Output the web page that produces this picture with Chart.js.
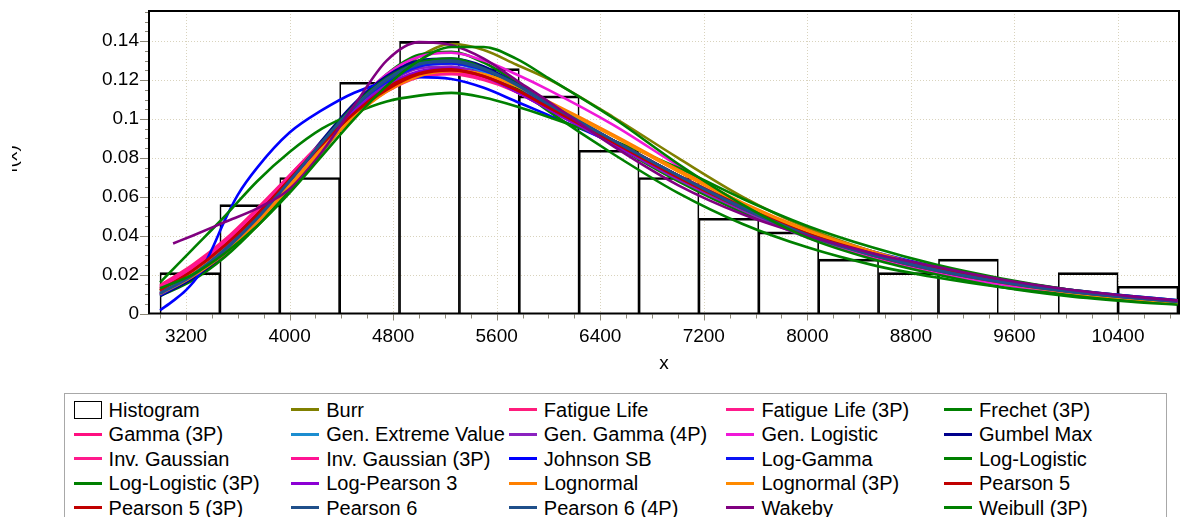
<!DOCTYPE html>
<html>
<head>
<meta charset="utf-8">
<script src="https://cdn.jsdelivr.net/npm/chart.js@4.4.1/dist/chart.umd.min.js"></script>
<style>
  html, body { margin: 0; padding: 0; background: #fff; }
  #wrap { position: relative; width: 1181px; height: 517px; overflow: hidden;
          font-family: "Liberation Sans", Arial, sans-serif; }
  #plot { position: absolute; left: 0; top: 0; }
  #legend { position: absolute; left: 64px; top: 393px; width: 1103px; height: 150px;
            border: 1px solid #a8a8a8; box-sizing: border-box; background: #fff; }
  .item { position: absolute; height: 24px; line-height: 24px; font-size: 20px; color: #000; white-space: nowrap; }
  .sw { position: absolute; left: 0; top: 10.5px; width: 28px; height: 3px; }
  .box { position: absolute; left: 0; top: 3px; width: 28px; height: 18px; border: 1.5px solid #000; box-sizing: border-box; }
  .lbl { position: absolute; left: 35px; top: 0; }
</style>
</head>
<body>
<div id="wrap">
  <canvas id="plot" width="1181" height="385"></canvas>
  <div id="legend"></div>
</div>
<script>
// ---- histogram ----
const BIN_START = 2999;
const BIN_WIDTH = 462.6;
const HIST_COUNTS = [3, 8, 10, 17, 20, 18, 16, 12, 10, 7, 6, 4, 3, 4, 0, 3, 2];

// ---- axis ranges and tick labels ----
const X_MIN = 2914, X_MAX = 10871;
const X_LABELS = [3200, 4000, 4800, 5600, 6400, 7200, 8000, 8800, 9600, 10400];
const X_MINOR = 200, X_MINOR_START = 3000;
const Y_MAX = 0.1555;
const Y_LABELS = [0, 0.02, 0.04, 0.06, 0.08, 0.1, 0.12, 0.14];
const Y_MINOR = 0.005;

// ---- fitted density curves, sampled along x ----
const X_GRID = [3000, 3250, 3500, 3750, 4000, 4250, 4500, 4750, 5000, 5250, 5500, 5750, 6000, 6500, 7000, 7500, 8000, 8500, 9000, 9500, 10000, 10500, 10860];
const JOHNSON_SB_X = [3000, 3100, 3200, 3300, 3400, 3500, 3600, 3750, 4000, 4250, 4500, 4750, 5000, 5250, 5500, 5750, 6000, 6500, 7000, 7500, 8000, 8500, 9000, 9500, 10000, 10500, 10860];
const WAKEBY_X = [3100, 3250, 3500, 3750, 4000, 4250, 4500, 4750, 5000, 5250, 5500, 5750, 6000, 6500, 7000, 7500, 8000, 8500, 9000, 9500, 10000, 10500, 10860];

const BURR = [0.010, 0.018, 0.030, 0.045, 0.063, 0.083, 0.103, 0.120, 0.132, 0.1385, 0.1355, 0.128, 0.1205, 0.101, 0.080, 0.060, 0.044, 0.032, 0.023, 0.016, 0.0112, 0.0078, 0.0058];
const FATIGUE_LIFE = [0.0145, 0.025, 0.038, 0.054, 0.071, 0.088, 0.103, 0.115, 0.122, 0.1235, 0.121, 0.114, 0.105, 0.088, 0.071, 0.055, 0.041, 0.031, 0.023, 0.0165, 0.0118, 0.0083, 0.0063];
const FATIGUE_LIFE_3P = [0.014, 0.024, 0.037, 0.053, 0.070, 0.088, 0.104, 0.116, 0.1235, 0.125, 0.122, 0.115, 0.106, 0.088, 0.070, 0.054, 0.040, 0.030, 0.022, 0.016, 0.0113, 0.008, 0.006];
const FRECHET_3P = [0.009, 0.017, 0.029, 0.045, 0.064, 0.085, 0.106, 0.123, 0.133, 0.1345, 0.129, 0.119, 0.108, 0.087, 0.068, 0.052, 0.040, 0.030, 0.0225, 0.017, 0.0125, 0.009, 0.0068];
const GAMMA_3P = [0.0125, 0.023, 0.036, 0.052, 0.070, 0.088, 0.104, 0.116, 0.123, 0.125, 0.122, 0.115, 0.106, 0.089, 0.071, 0.054, 0.040, 0.029, 0.021, 0.015, 0.0105, 0.0073, 0.0055];
const GEN_EXTREME_VALUE = [0.011, 0.020, 0.033, 0.049, 0.068, 0.088, 0.106, 0.119, 0.127, 0.1285, 0.124, 0.116, 0.106, 0.088, 0.070, 0.054, 0.041, 0.031, 0.023, 0.017, 0.0122, 0.0088, 0.0068];
const GEN_GAMMA_4P = [0.010, 0.020, 0.033, 0.050, 0.069, 0.088, 0.105, 0.118, 0.126, 0.127, 0.123, 0.115, 0.105, 0.087, 0.069, 0.053, 0.039, 0.029, 0.021, 0.015, 0.0106, 0.0073, 0.0055];
const GEN_LOGISTIC = [0.010, 0.019, 0.031, 0.047, 0.066, 0.087, 0.107, 0.123, 0.132, 0.134, 0.130, 0.123, 0.115, 0.097, 0.076, 0.056, 0.040, 0.029, 0.021, 0.015, 0.0103, 0.007, 0.0052];
const GUMBEL_MAX = [0.009, 0.018, 0.031, 0.048, 0.068, 0.089, 0.108, 0.122, 0.130, 0.131, 0.127, 0.118, 0.108, 0.089, 0.071, 0.055, 0.041, 0.031, 0.023, 0.0165, 0.0118, 0.0083, 0.0063];
const INV_GAUSSIAN = [0.013, 0.024, 0.037, 0.053, 0.070, 0.087, 0.102, 0.114, 0.1215, 0.123, 0.120, 0.114, 0.105, 0.088, 0.071, 0.055, 0.041, 0.031, 0.023, 0.0165, 0.0118, 0.0084, 0.0064];
const INV_GAUSSIAN_3P = [0.0135, 0.024, 0.037, 0.053, 0.071, 0.088, 0.103, 0.115, 0.1225, 0.124, 0.121, 0.114, 0.105, 0.088, 0.070, 0.054, 0.040, 0.030, 0.022, 0.016, 0.0113, 0.008, 0.006];
const JOHNSON_SB = [0.0017, 0.0065, 0.012, 0.020, 0.033, 0.048, 0.061, 0.075, 0.093, 0.1045, 0.1135, 0.119, 0.1215, 0.1205, 0.116, 0.109, 0.102, 0.0875, 0.070, 0.0545, 0.041, 0.031, 0.023, 0.0163, 0.0112, 0.0076, 0.0056];
const LOG_GAMMA = [0.0095, 0.019, 0.032, 0.049, 0.068, 0.088, 0.106, 0.119, 0.127, 0.1285, 0.125, 0.117, 0.107, 0.089, 0.071, 0.055, 0.042, 0.032, 0.024, 0.0175, 0.0125, 0.009, 0.0068];
const LOG_LOGISTIC = [0.016, 0.033, 0.050, 0.068, 0.083, 0.095, 0.103, 0.109, 0.112, 0.1134, 0.111, 0.1065, 0.101, 0.089, 0.075, 0.059, 0.045, 0.034, 0.025, 0.018, 0.0125, 0.0085, 0.0063];
const LOG_LOGISTIC_3P = [0.012, 0.021, 0.033, 0.049, 0.068, 0.088, 0.107, 0.121, 0.129, 0.131, 0.126, 0.116, 0.104, 0.082, 0.062, 0.046, 0.034, 0.025, 0.0185, 0.0135, 0.0098, 0.007, 0.0052];
const LOG_PEARSON_3 = [0.010, 0.020, 0.033, 0.050, 0.068, 0.087, 0.104, 0.117, 0.1245, 0.126, 0.122, 0.114, 0.105, 0.087, 0.070, 0.054, 0.041, 0.031, 0.023, 0.017, 0.012, 0.0087, 0.0066];
const LOGNORMAL = [0.010, 0.019, 0.031, 0.047, 0.065, 0.084, 0.101, 0.114, 0.122, 0.1245, 0.123, 0.117, 0.109, 0.092, 0.074, 0.057, 0.043, 0.032, 0.023, 0.0165, 0.0115, 0.008, 0.006];
const LOGNORMAL_3P = [0.0115, 0.021, 0.033, 0.049, 0.066, 0.085, 0.102, 0.115, 0.123, 0.125, 0.123, 0.117, 0.108, 0.091, 0.073, 0.056, 0.042, 0.031, 0.0225, 0.016, 0.011, 0.0076, 0.0056];
const PEARSON_5 = [0.012, 0.022, 0.035, 0.051, 0.069, 0.087, 0.103, 0.115, 0.123, 0.125, 0.122, 0.115, 0.106, 0.089, 0.071, 0.055, 0.041, 0.031, 0.023, 0.0168, 0.012, 0.0086, 0.0065];
const PEARSON_5_3P = [0.0118, 0.022, 0.035, 0.051, 0.069, 0.087, 0.103, 0.116, 0.1235, 0.1255, 0.122, 0.115, 0.106, 0.088, 0.070, 0.054, 0.041, 0.030, 0.022, 0.016, 0.0115, 0.0082, 0.0062];
const PEARSON_6 = [0.0105, 0.020, 0.033, 0.049, 0.068, 0.088, 0.106, 0.120, 0.128, 0.130, 0.126, 0.118, 0.108, 0.089, 0.071, 0.054, 0.040, 0.030, 0.022, 0.016, 0.0113, 0.008, 0.006];
const PEARSON_6_4P = [0.0102, 0.0195, 0.0325, 0.049, 0.068, 0.088, 0.1065, 0.1205, 0.1285, 0.1295, 0.1255, 0.1175, 0.1075, 0.089, 0.071, 0.0545, 0.0405, 0.0305, 0.0225, 0.0163, 0.0115, 0.0081, 0.0061];
const WAKEBY = [0.036, 0.040, 0.047, 0.054, 0.064, 0.083, 0.107, 0.130, 0.1395, 0.138, 0.131, 0.120, 0.109, 0.086, 0.066, 0.051, 0.040, 0.031, 0.024, 0.0175, 0.0125, 0.0088, 0.0066];
const WEIBULL_3P = [0.013, 0.020, 0.031, 0.045, 0.062, 0.081, 0.100, 0.117, 0.130, 0.137, 0.137, 0.131, 0.121, 0.1005, 0.077, 0.056, 0.039, 0.028, 0.020, 0.0135, 0.009, 0.006, 0.0045];

// legend order: name, x samples, y samples, colour
const CURVES = [
  ['Burr', X_GRID, BURR, '#808000'],
  ['Fatigue Life', X_GRID, FATIGUE_LIFE, '#FF1C7C'],
  ['Fatigue Life (3P)', X_GRID, FATIGUE_LIFE_3P, '#FF1A8C'],
  ['Frechet (3P)', X_GRID, FRECHET_3P, '#008000'],
  ['Gamma (3P)', X_GRID, GAMMA_3P, '#FF0F80'],
  ['Gen. Extreme Value', X_GRID, GEN_EXTREME_VALUE, '#1C8DD0'],
  ['Gen. Gamma (4P)', X_GRID, GEN_GAMMA_4P, '#8B22C0'],
  ['Gen. Logistic', X_GRID, GEN_LOGISTIC, '#F018D8'],
  ['Gumbel Max', X_GRID, GUMBEL_MAX, '#00008C'],
  ['Inv. Gaussian', X_GRID, INV_GAUSSIAN, '#FF1A8C'],
  ['Inv. Gaussian (3P)', X_GRID, INV_GAUSSIAN_3P, '#FF1493'],
  ['Johnson SB', JOHNSON_SB_X, JOHNSON_SB, '#0000FF'],
  ['Log-Gamma', X_GRID, LOG_GAMMA, '#0A14F5'],
  ['Log-Logistic', X_GRID, LOG_LOGISTIC, '#008000'],
  ['Log-Logistic (3P)', X_GRID, LOG_LOGISTIC_3P, '#008000'],
  ['Log-Pearson 3', X_GRID, LOG_PEARSON_3, '#8C00D4'],
  ['Lognormal', X_GRID, LOGNORMAL, '#FF8000'],
  ['Lognormal (3P)', X_GRID, LOGNORMAL_3P, '#FF8A00'],
  ['Pearson 5', X_GRID, PEARSON_5, '#C00000'],
  ['Pearson 5 (3P)', X_GRID, PEARSON_5_3P, '#C00000'],
  ['Pearson 6', X_GRID, PEARSON_6, '#1F4F8A'],
  ['Pearson 6 (4P)', X_GRID, PEARSON_6_4P, '#1F4F8A'],
  ['Wakeby', WAKEBY_X, WAKEBY, '#800080'],
  ['Weibull (3P)', X_GRID, WEIBULL_3P, '#008000']
];

const FONT = '"Liberation Sans", Arial, sans-serif';

// histogram bars centred on their bins, heights as relative frequency
const total = HIST_COUNTS.reduce((s, c) => s + c, 0);
const histData = HIST_COUNTS.map((c, i) => ({ x: BIN_START + (i + 0.5) * BIN_WIDTH, y: c / total }));

const datasets = [{
  type: 'bar',
  label: 'Histogram',
  data: histData,
  backgroundColor: 'rgba(0,0,0,0)',
  borderColor: '#000',
  borderWidth: { top: 2, left: 1, right: 1, bottom: 0 },
  borderSkipped: 'start',
  barPercentage: 1,
  categoryPercentage: 1,
  order: 1000
}];
CURVES.forEach(([name, xs, ys, color], i) => {
  datasets.push({
    type: 'line',
    label: name,
    data: xs.map((x, k) => ({ x, y: ys[k] })),
    borderColor: color,
    borderWidth: 2.6,
    pointRadius: 0,
    fill: false,
    cubicInterpolationMode: 'monotone',
    order: 100 - i
  });
});

// dotted grid, frame, minor/major tick marks and the clipped y title
const axesDecor = {
  id: 'axesDecor',
  beforeDatasetsDraw(chart) {
    const { ctx, chartArea: a, scales: { x, y } } = chart;
    ctx.save();
    ctx.strokeStyle = '#d9d3bd';
    ctx.lineWidth = 1;
    ctx.setLineDash([1, 2]);
    ctx.beginPath();
    X_LABELS.forEach(v => {
      const p = Math.round(x.getPixelForValue(v)) + 0.5;
      ctx.moveTo(p, a.top); ctx.lineTo(p, a.bottom);
    });
    Y_LABELS.slice(1).forEach(v => {
      const p = Math.round(y.getPixelForValue(v)) + 0.5;
      ctx.moveTo(a.left, p); ctx.lineTo(a.right, p);
    });
    ctx.stroke();
    ctx.restore();
  },
  afterDatasetsDraw(chart) {
    const { ctx, chartArea: a, scales: { x, y } } = chart;
    ctx.save();
    ctx.strokeStyle = '#8a8676';
    ctx.lineWidth = 1;
    ctx.beginPath();
    for (let k = 0; X_MINOR_START + k * X_MINOR <= X_MAX; k++) {
      const v = X_MINOR_START + k * X_MINOR;
      const p = Math.round(x.getPixelForValue(v)) + 0.5;
      const major = X_LABELS.includes(v);
      ctx.moveTo(p, a.bottom + 1); ctx.lineTo(p, a.bottom + (major ? 7 : 5));
    }
    for (let k = 0; k * Y_MINOR <= Y_MAX; k++) {
      const p = Math.round(y.getPixelForValue(k * Y_MINOR)) + 0.5;
      const major = k % 4 === 0;
      ctx.moveTo(a.left - 1, p); ctx.lineTo(a.left - (major ? 9 : 4), p);
    }
    ctx.stroke();
    ctx.strokeStyle = '#000';
    ctx.lineWidth = 2;
    ctx.strokeRect(a.left, a.top, a.right - a.left, a.bottom - a.top);
    ctx.restore();
  },
  afterDraw(chart) {
    const { ctx } = chart;
    ctx.save();
    ctx.beginPath();
    ctx.rect(12, 0, 200, chart.height);
    ctx.clip();
    ctx.translate(16.5, 159);
    ctx.rotate(-Math.PI / 2);
    ctx.font = '19px ' + FONT;
    ctx.fillStyle = '#000';
    ctx.textAlign = 'center';
    ctx.textBaseline = 'alphabetic';
    ctx.fillText('f(x)', 0, 0);
    ctx.restore();
  }
};

new Chart(document.getElementById('plot'), {
  data: { datasets },
  options: {
    responsive: false,
    animation: false,
    events: [],
    layout: { padding: { top: 11, right: 2, left: 0, bottom: 0 } },
    plugins: { legend: { display: false }, tooltip: { enabled: false } },
    scales: {
      x: {
        type: 'linear',
        offset: false,
        min: X_MIN,
        max: X_MAX,
        grid: { display: false, drawTicks: false, offset: false },
        border: { display: false },
        ticks: {
          maxRotation: 0,
          autoSkip: false,
          padding: 12,
          color: '#000',
          font: { family: FONT, size: 19 },
          callback: v => String(v)
        },
        afterBuildTicks: s => { s.ticks = X_LABELS.map(v => ({ value: v })); },
        afterFit: s => { s.height = 71.5; s.paddingLeft = 0; s.paddingRight = 0; },
        title: { display: true, text: 'x', color: '#000', font: { family: FONT, size: 19 }, padding: { top: 0, bottom: 10 } }
      },
      y: {
        type: 'linear',
        min: 0,
        max: Y_MAX,
        grid: { display: false, drawTicks: false },
        border: { display: false },
        ticks: {
          padding: 10,
          color: '#000',
          font: { family: FONT, size: 19 },
          callback: v => String(v)
        },
        afterBuildTicks: s => { s.ticks = Y_LABELS.map(v => ({ value: v })); },
        afterFit: s => { s.width = 149; s.paddingTop = 0; s.paddingBottom = 0; }
      }
    }
  },
  plugins: [axesDecor]
});

// legend in five columns, same order and colours as the datasets
const legend = document.getElementById('legend');
const entries = [['Histogram', null]].concat(CURVES.map(c => [c[0], c[3]]));
entries.forEach(([name, color], i) => {
  const col = i % 5, row = Math.floor(i / 5);
  const item = document.createElement('div');
  item.className = 'item';
  item.style.left = (8.6 + col * 217.6) + 'px';
  item.style.top = (3.6 + row * 24.5) + 'px';
  const sw = document.createElement('span');
  if (color) { sw.className = 'sw'; sw.style.background = color; } else { sw.className = 'box'; }
  const lbl = document.createElement('span');
  lbl.className = 'lbl';
  lbl.textContent = name;
  item.appendChild(sw);
  item.appendChild(lbl);
  legend.appendChild(item);
});
</script>
</body>
</html>
